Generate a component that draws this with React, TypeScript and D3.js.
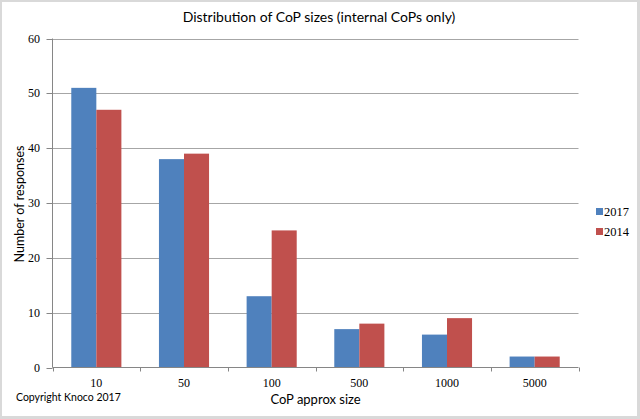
import React from "react";
import * as d3 from "d3";

const categories = ["10", "50", "100", "500", "1000", "5000"];
const series2017 = [51, 38, 13, 7, 6, 2];
const series2014 = [47, 39, 25, 8, 9, 2];
const seriesNames = ["2017", "2014"];
const yTicks = [0, 10, 20, 30, 40, 50, 60];

const W = 640;
const H = 419;
const left = 52.5;
const right = 578.5;
const top = 38.5;
const bottom = 367.5;

const colors = ["#4F81BD", "#C0504D"];
const sansFont = "Lato, 'Open Sans', sans-serif";
const serifFont = "'Liberation Serif', 'DejaVu Serif', serif";

export default function App() {
  const x = d3.scaleBand<string>().domain(categories).range([left, right]).paddingInner(0).paddingOuter(0);
  const y = d3.scaleLinear().domain([0, 60]).range([bottom, top]);
  const band = x.bandwidth();
  const barW = band / 3.5;
  const inner = d3.scaleBand<string>().domain(seriesNames).range([band * 0.75 / 3.5, band - band * 0.75 / 3.5]);
  const allSeries = [series2017, series2014];
  const boundaries = d3.range(categories.length + 1).map((i) => left + i * band);

  return (
    <div style={{ position: "fixed", left: 0, top: 0 }}>
      <svg width={W} height={H} style={{ display: "block" }}>
        <rect x={0} y={0} width={W} height={H} fill="#D9D9D9" />
        <rect x={2} y={2} width={W - 5} height={H - 5} fill="#ffffff" />
        <text x={319} y={22} textAnchor="middle" fontFamily={sansFont} fontSize={14} fill="#000">
          Distribution of CoP sizes (internal CoPs only)
        </text>
        {yTicks.filter((t) => t > 0).map((t) => (
          <line key={"g" + t} x1={left} x2={right} y1={Math.round(y(t)) + 0.5} y2={Math.round(y(t)) + 0.5} stroke="#A6A6A6" strokeWidth={1} />
        ))}
        {allSeries.map((vals, si) =>
          vals.map((v, ci) => (
            <rect
              key={si + "-" + ci}
              x={(x(categories[ci]) as number) + (inner(seriesNames[si]) as number)}
              y={y(v)}
              width={barW}
              height={y(0) - y(v)}
              fill={colors[si]}
            />
          ))
        )}
        <line x1={left} x2={left} y1={top} y2={bottom} stroke="#868686" />
        <line x1={left} x2={right} y1={bottom} y2={bottom} stroke="#868686" />
        {yTicks.map((t) => (
          <g key={"t" + t}>
            <line x1={left - 6} x2={left} y1={Math.round(y(t)) + 0.5} y2={Math.round(y(t)) + 0.5} stroke="#868686" />
            <text x={40} y={y(t) + 4} textAnchor="end" fontFamily={serifFont} fontSize={12} fill="#000">
              {t}
            </text>
          </g>
        ))}
        {boundaries.map((b, i) => (
          <line key={"xb" + i} x1={Math.round(b) + 0.5} x2={Math.round(b) + 0.5} y1={bottom} y2={bottom + 4} stroke="#868686" />
        ))}
        {categories.map((c) => (
          <text key={"xl" + c} x={(x(c) as number) + band / 2} y={387} textAnchor="middle" fontFamily={serifFont} fontSize={12} fill="#000">
            {c}
          </text>
        ))}
        <text x={315.5} y={404} textAnchor="middle" fontFamily={sansFont} fontSize={13} fill="#000">
          CoP approx size
        </text>
        <text transform="translate(24,204) rotate(-90)" textAnchor="middle" fontFamily={sansFont} fontSize={12.5} fill="#000">
          Number of responses
        </text>
        <text x={16} y={401} fontFamily={sansFont} fontSize={10.5} fill="#000">
          Copyright Knoco 2017
        </text>
        {seriesNames.map((s, i) => (
          <g key={"lg" + s}>
            <rect x={596} y={208 + i * 20} width={7} height={7} fill={colors[i]} />
            <text x={604} y={216 + i * 20} fontFamily={serifFont} fontSize={12.5} fill="#000">
              {s}
            </text>
          </g>
        ))}
      </svg>
    </div>
  );
}
